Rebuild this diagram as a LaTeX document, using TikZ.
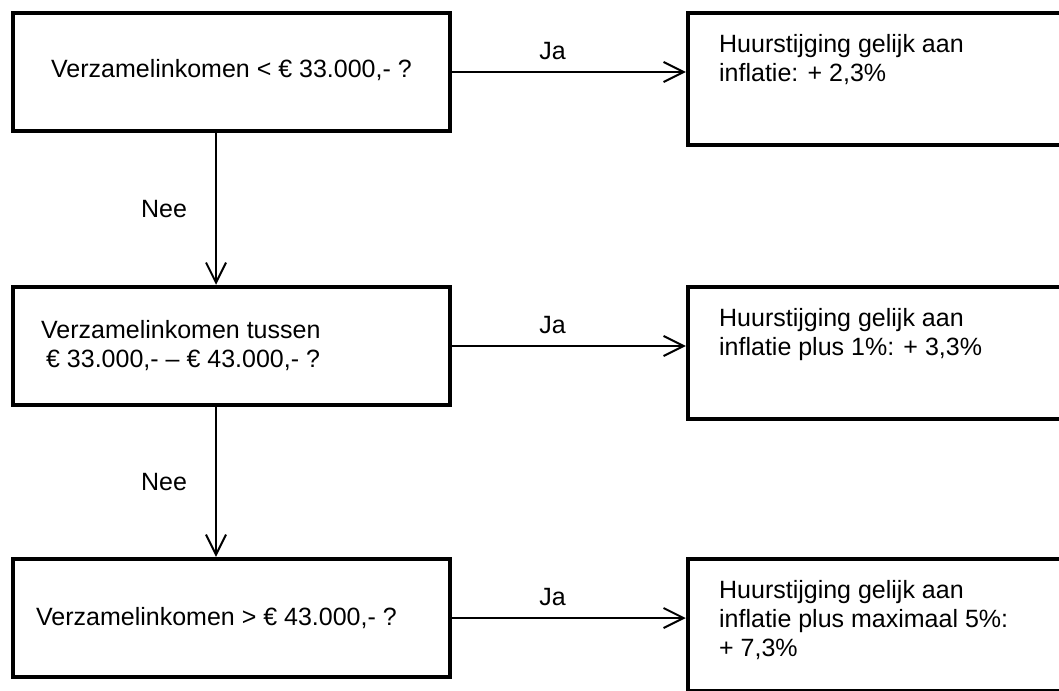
\documentclass[tikz,border=0pt]{standalone}
\usepackage{fontspec}
\setmainfont{Liberation Sans}
\usetikzlibrary{arrows.meta,positioning}
\tikzset{
  every picture/.style={line join=miter, >={Straight Barb[length=10pt,width=10pt]}},
  qbox/.style={draw, line width=2.25pt, minimum width=218.5pt, minimum height=59pt, inner sep=0pt},
  rbox/.style={draw, line width=2.25pt, minimum width=191pt, minimum height=66pt, inner sep=0pt},
  txt/.style={font=\fontsize{12.5}{14.5}\selectfont, inner sep=0pt, align=left},
  flow/.style={->, line width=1pt},
}

\begin{document}
\begin{tikzpicture}[x=0.5pt,y=-0.5pt]
\useasboundingbox (0,0) rectangle (1059,690);
\clip (0,0) rectangle (1059,690);
% questions on the left
\node[qbox] (q1) at (231.5,72) {};
\node[qbox] (q2) at (231.5,346) {};
\node[qbox] (q3) at (231.5,618) {};
% outcomes on the right
\node[rbox] (r1) at (879,79) {};
\node[rbox] (r2) at (879,353) {};
\node[rbox] (r3) at (879,625) {};

\node[txt] (q1t) at ([yshift=1pt]q1) {Verzamelinkomen < € 33.000,- ?};
\node[txt,anchor=west] (q2t) at ([xshift=15pt]q2.west) {Verzamelinkomen tussen\\\hspace{2.5pt}€ 33.000,- – € 43.000,- ?};
\node[txt,anchor=west] (q3t) at ([xshift=12.5pt]q3.west) {Verzamelinkomen > € 43.000,- ?};

\node[txt,anchor=north west] (r1t) at ([xshift=16.5pt,yshift=-11.5pt]r1.north west) {Huurstijging gelijk aan\\inflatie: + 2,3\%};
\node[txt,anchor=north west] (r2t) at ([xshift=16.5pt,yshift=-11.5pt]r2.north west) {Huurstijging gelijk aan\\inflatie plus 1\%: + 3,3\%};
\node[txt,anchor=north west] (r3t) at ([xshift=16.5pt,yshift=-11.5pt]r3.north west) {Huurstijging gelijk aan\\inflatie plus maximaal 5\%:\\+ 7,3\%};

% Ja / Nee
\draw[flow] (q1.east) -- node[txt,above=5.5pt,pos=0.43] (ja1) {Ja} (q1.east -| r1.west);
\draw[flow] (q2.east) -- node[txt,above=5.5pt,pos=0.43] (ja2) {Ja} (q2.east -| r2.west);
\draw[flow] (q3.east) -- node[txt,above=5.5pt,pos=0.43] (ja3) {Ja} (q3.east -| r3.west);
\draw[flow] ([xshift=-7.75pt]q1.south) -- node[txt,left=14pt] (nee1) {Nee} ([xshift=-7.75pt]q2.north);
\draw[flow] ([xshift=-7.75pt]q2.south) -- node[txt,left=14pt] (nee2) {Nee} ([xshift=-7.75pt]q3.north);
\end{tikzpicture}
\end{document}
